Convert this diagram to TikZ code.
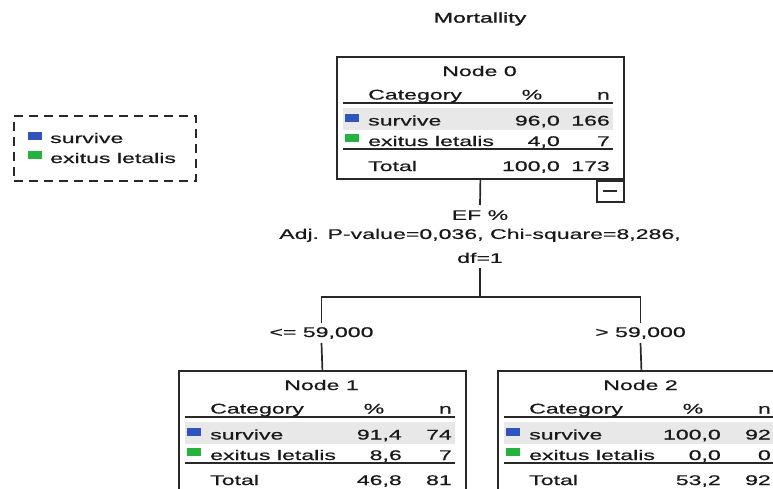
\documentclass[tikz,border=0pt]{standalone}
\usepackage{fontspec}
\newfontfamily\spssfont[FakeStretch=1.65, FakeBold=0.6]{Liberation Sans}
\newfontfamily\spsstitle[FakeStretch=1.65, FakeBold=1.6]{Liberation Sans}

\definecolor{spssblue}{RGB}{48,84,188}
\definecolor{spssgreen}{RGB}{38,178,62}
\definecolor{rowgray}{RGB}{232,232,232}
\definecolor{linegray}{RGB}{40,40,40}

\begin{document}
\begin{tikzpicture}[x=1pt, y=-1pt,
    every node/.style={font=\spssfont\fontsize{14}{19}\selectfont, inner sep=0pt, text=black!90},
    treebox/.style={draw=linegray, line width=1.8pt, minimum width=287pt, minimum height=122pt, anchor=north west},
    rule/.style={draw=linegray, line width=1.6pt},
    conn/.style={draw=linegray, line width=1.7pt}]
    \useasboundingbox (0,0) rectangle (773,488);
    \clip (0,0) rectangle (773,488);
    % Title
    \node[font=\spsstitle\fontsize{14}{19}\selectfont] (title) at (480,19) {Mortallity};
    % Legend
    \node[draw=linegray, dash pattern=on 9pt off 6pt, line width=1.7pt, minimum width=182pt, minimum height=65pt, anchor=north west] (legend) at (13,115) {};
    \fill[spssblue] ([shift={(15,17)}]legend.north west) rectangle ++(14,8);
    \fill[spssgreen] ([shift={(15,36)}]legend.north west) rectangle ++(14,8);
    \node[anchor=base west] (legend-s) at ([shift={(37,28)}]legend.north west) {survive};
    \node[anchor=base west] (legend-e) at ([shift={(37,48)}]legend.north west) {exitus letalis};
    % Tree nodes
    \foreach \nm/\bx/\by/\ttl/\pS/\nS/\pE/\nE/\pT/\nT in {
        n0/336/56/Node 0/{96,0}/166/{4,0}/7/{100,0}/173,
        n1/178/370/Node 1/{91,4}/74/{8,6}/7/{46,8}/81,
        n2/497/370/Node 2/{100,0}/92/{0,0}/0/{53,2}/92} {
        \fill[rowgray] ([shift={(7,52)}]\bx,\by) rectangle ([shift={(277,74)}]\bx,\by);
        \node[treebox] (\nm) at (\bx,\by) {};
        \draw[rule] ([shift={(7,47)}]\nm.north west) -- ++(270,0);
        \draw[rule] ([shift={(7,93)}]\nm.north west) -- ++(270,0);
        \fill[spssblue] ([shift={(9,58)}]\nm.north west) rectangle ++(14,8);
        \fill[spssgreen] ([shift={(9,78)}]\nm.north west) rectangle ++(14,8);
        \node[anchor=base] (\nm-title) at ([shift={(143.5,20)}]\nm.north west) {\ttl};
        \node[anchor=base west] (\nm-cat) at ([shift={(32,43.5)}]\nm.north west) {Category};
        \node[anchor=base] (\nm-pct) at ([shift={(196,43.5)}]\nm.north west) {\%};
        \node[anchor=base east] (\nm-n) at ([shift={(274,43.5)}]\nm.north west) {n};
        \node[anchor=base west] (\nm-s) at ([shift={(32,69.5)}]\nm.north west) {survive};
        \node[anchor=base east] (\nm-sp) at ([shift={(224,69.5)}]\nm.north west) {\pS};
        \node[anchor=base east] (\nm-sn) at ([shift={(274,69.5)}]\nm.north west) {\nS};
        \node[anchor=base west] (\nm-e) at ([shift={(32,90)}]\nm.north west) {exitus letalis};
        \node[anchor=base east] (\nm-ep) at ([shift={(224,90)}]\nm.north west) {\pE};
        \node[anchor=base east] (\nm-en) at ([shift={(274,90)}]\nm.north west) {\nE};
        \node[anchor=base west] (\nm-t) at ([shift={(32,115)}]\nm.north west) {Total};
        \node[anchor=base east] (\nm-tp) at ([shift={(224,115)}]\nm.north west) {\pT};
        \node[anchor=base east] (\nm-tn) at ([shift={(274,115)}]\nm.north west) {\nT};
    }
    % Collapse box under node 0
    \node[draw=linegray, line width=1.7pt, minimum width=27pt, minimum height=21pt, anchor=north east] (n0-fold) at (n0.south east) {};
    \draw[conn] ([xshift=-7pt]n0-fold.center) -- ([xshift=7pt]n0-fold.center);
    % Split
    \node[align=center, inner ysep=5pt, anchor=north] (split) at (480,205) {EF \%\\Adj. P-value=0,036, Chi-square=8,286,\\[5pt]df=1};
    \coordinate (fork) at (480,297);
    \node[inner ysep=4pt] (lab1) at (321.5,333) {<= 59,000};
    \node[inner ysep=4pt] (lab2) at (640.5,333) {> 59,000};
    \draw[conn] (n0.south) -- (split.north);
    \draw[conn] (split.south) -- (fork);
    \draw[conn] (lab1.north) |- (fork) -| (lab2.north);
    \draw[conn] (lab1.south) -- (n1.north);
    \draw[conn] (lab2.south) -- (n2.north);
\end{tikzpicture}
\end{document}
